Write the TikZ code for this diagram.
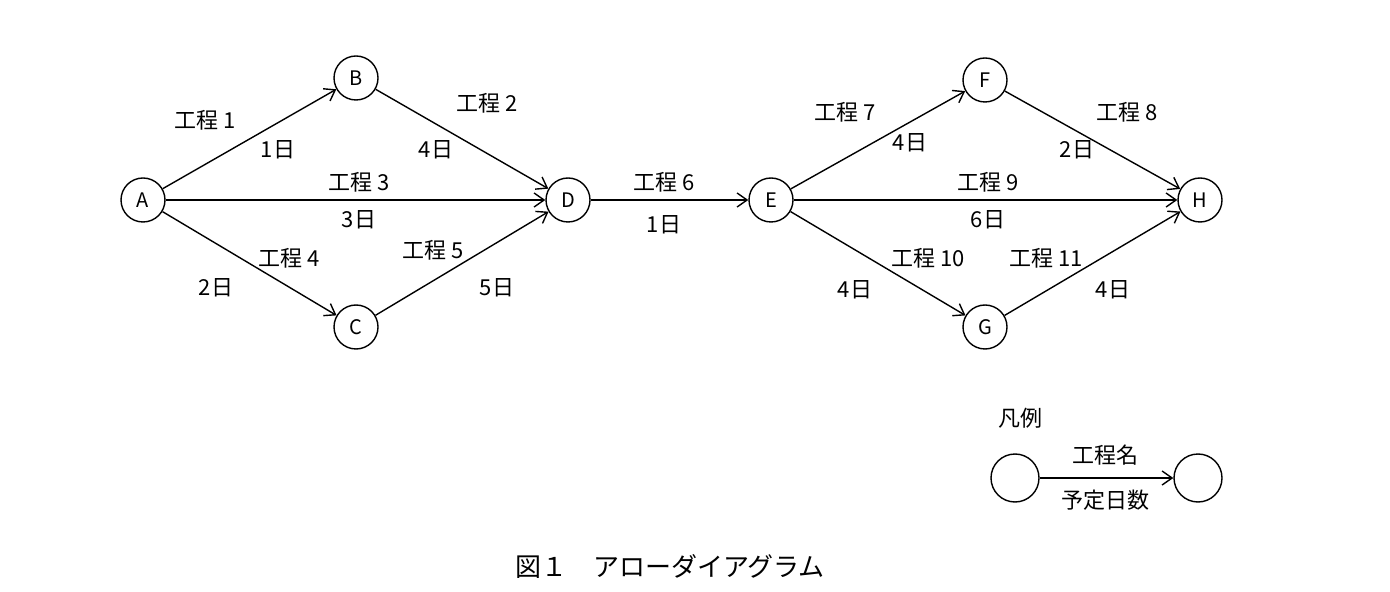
\documentclass[tikz,border=0pt]{standalone}
\usepackage{fontspec}
\setmainfont{Noto Sans CJK JP}
\usetikzlibrary{arrows.meta}
\begin{document}
\begin{tikzpicture}[x=0.5pt,y=-0.5pt,
  ev/.style={circle,draw,line width=0.7pt,minimum size=22pt,inner sep=0pt,font=\fontsize{10}{12}\selectfont},
  lg/.style={circle,draw,line width=0.7pt,minimum size=24pt,inner sep=0pt},
  ar/.style={draw,line width=0.7pt,-{Straight Barb[length=5pt,width=7pt]}},
  lb/.style={font=\fontsize{11}{13}\selectfont,inner sep=0pt}]
\useasboundingbox (0,0) rectangle (1390,592);
\node[ev] (A) at (143,200) {A};
\node[ev] (B) at (356,78) {B};
\node[ev] (C) at (356,327) {C};
\node[ev] (D) at (568,200) {D};
\node[ev] (E) at (771,200) {E};
\node[ev] (F) at (985,80) {F};
\node[ev] (G) at (985,327) {G};
\node[ev] (H) at (1200,200) {H};
\draw[ar] (A) -- (B); \draw[ar] (B) -- (D);
\draw[ar] (A) -- (D); \draw[ar] (A) -- (C); \draw[ar] (C) -- (D);
\draw[ar] (D) -- (E);
\draw[ar] (E) -- (F); \draw[ar] (F) -- (H);
\draw[ar] (E) -- (H); \draw[ar] (E) -- (G); \draw[ar] (G) -- (H);
\node[lb] (l1) at (205,120) {工程 1}; \node[lb] (d1) at (278,150) {1日};
\node[lb] (l2) at (487,103) {工程 2}; \node[lb] (d2) at (436,150) {4日};
\node[lb] (l3) at (359,182) {工程 3}; \node[lb] (d3) at (359,220) {3日};
\node[lb] (l4) at (289,258) {工程 4}; \node[lb] (d4) at (216,288) {2日};
\node[lb] (l5) at (433,250) {工程 5}; \node[lb] (d5) at (497,288) {5日};
\node[lb] (l6) at (664,182) {工程 6}; \node[lb] (d6) at (664,225) {1日};
\node[lb] (l7) at (845,112) {工程 7}; \node[lb] (d7) at (910,143) {4日};
\node[lb] (l8) at (1127,112) {工程 8}; \node[lb] (d8) at (1077,150) {2日};
\node[lb] (l9) at (988,182) {工程 9}; \node[lb] (d9) at (988,220) {6日};
\node[lb] (l10) at (928,258) {工程 10}; \node[lb] (d10) at (855,290) {4日};
\node[lb] (l11) at (1046,258) {工程 11}; \node[lb] (d11) at (1113,290) {4日};
\node[lb] (lgt) at (1020,418) {凡例};
\node[lg] (L1) at (1015,478) {};
\node[lg] (L2) at (1198,478) {};
\draw[ar] (L1) -- (L2);
\node[lb] (ln) at (1105,455) {工程名};
\node[lb] (ld) at (1105,500) {予定日数};
\node[font=\fontsize{13}{15}\selectfont,inner sep=0pt] (cap) at (670,567) {図１　アローダイアグラム};
\end{tikzpicture}
\end{document}
